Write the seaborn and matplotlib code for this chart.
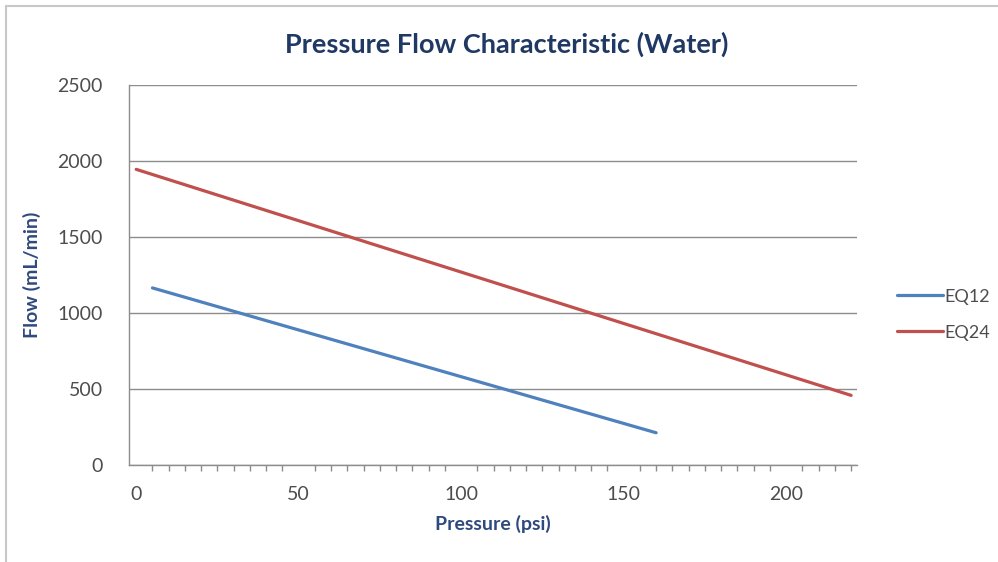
import matplotlib
matplotlib.use("Agg")
import matplotlib.pyplot as plt
from matplotlib.ticker import MultipleLocator
from matplotlib.lines import Line2D
import seaborn as sns
import pandas as pd

# data
eq12_pressure = [5, 160]
eq12_flow = [1165, 212]
eq24_pressure = [0, 220]
eq24_flow = [1945, 458]
series_names = ["EQ12", "EQ24"]
x_ticks = [0, 50, 100, 150, 200]
y_ticks = [0, 500, 1000, 1500, 2000, 2500]

df = pd.concat([
    pd.DataFrame({"Pressure": eq12_pressure, "Flow": eq12_flow, "Series": series_names[0]}),
    pd.DataFrame({"Pressure": eq24_pressure, "Flow": eq24_flow, "Series": series_names[1]}),
])

sns.set_theme(style="white")
plt.rcParams["font.family"] = ["Lato", "DejaVu Sans"]

colors = {"EQ12": "#4F81BD", "EQ24": "#C0504D"}
grid_c = "#8C8C8C"
tick_c = "#4D4D4D"

fig = plt.figure(figsize=(9.98, 5.62), dpi=100)
ax = fig.add_axes([0.1293, 0.1726, 0.8587 - 0.1293, 0.8488 - 0.1726])

sns.lineplot(data=df, x="Pressure", y="Flow", hue="Series", palette=colors,
             linewidth=2.3, ax=ax, legend=False, sort=False, estimator=None)

ax.set_xlim(-2.2, 221.8)
ax.set_ylim(0, 2500)
ax.set_xticks(x_ticks)
ax.set_yticks(y_ticks)
ax.xaxis.set_minor_locator(MultipleLocator(5))
ax.yaxis.grid(True, color=grid_c, linewidth=1.0)
ax.xaxis.grid(False)
for s in ["top", "right"]:
    ax.spines[s].set_visible(False)
for s in ["left", "bottom"]:
    ax.spines[s].set_color(grid_c)
    ax.spines[s].set_linewidth(1.0)
ax.tick_params(axis="both", which="major", direction="out", length=6, width=1.0,
               color=grid_c, labelcolor=tick_c, labelsize=14)
ax.tick_params(axis="x", which="minor", direction="out", length=4, width=1.0, color=grid_c, bottom=True)
ax.tick_params(axis="y", which="major", pad=13)
ax.tick_params(axis="x", which="major", pad=9)

lab_c = "#2E4A7D"
ax.set_xlabel("Pressure (psi)", fontsize=14, fontweight="bold", color=lab_c, labelpad=9)
ax.set_ylabel("Flow (mL/min)", fontsize=14, fontweight="bold", color=lab_c, labelpad=12)

fig.text(0.508, 0.921, "Pressure Flow Characteristic (Water)", ha="center", va="center",
         fontsize=19.5, fontweight="bold", color="#1F3864")

handles = [Line2D([0], [0], color=colors[n], linewidth=2.3) for n in series_names]
leg = fig.legend(handles, series_names, loc="center left", bbox_to_anchor=(0.883, 0.44),
                 frameon=False, fontsize=13, handlelength=2.5, handletextpad=0.1,
                 labelspacing=1.1)
for t in leg.get_texts():
    t.set_color(tick_c)

# chart-area frame (top and left edges visible)
fig.add_artist(Line2D([0.006, 1.0], [1 - 6 / 562, 1 - 6 / 562], transform=fig.transFigure,
                      color="#C8C8C8", linewidth=1.5))
fig.add_artist(Line2D([0.006, 0.006], [0.0, 1 - 6 / 562], transform=fig.transFigure,
                      color="#C8C8C8", linewidth=1.5))

fig.savefig("out.png", dpi=100)
